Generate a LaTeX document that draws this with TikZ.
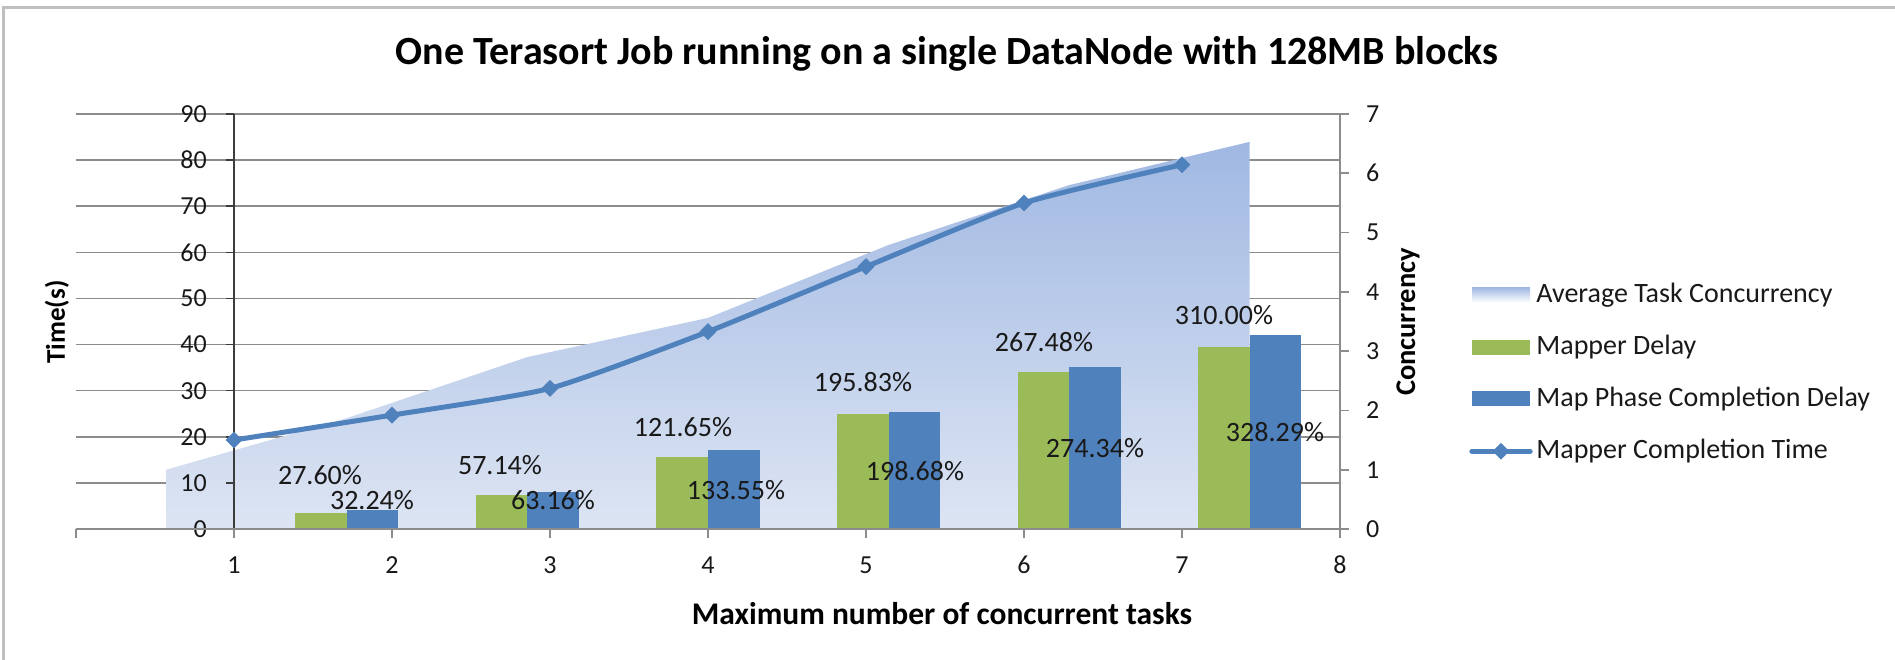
\documentclass[tikz,border=0pt]{standalone}
\usepackage{fontspec}
\setmainfont{Carlito}
\usepackage{tikz}
\usetikzlibrary{positioning,shapes.geometric}
\definecolor{barGreen}{RGB}{155,187,89}
\definecolor{barBlue}{RGB}{79,129,189}
\definecolor{gridGray}{RGB}{140,140,140}
\definecolor{axisDark}{RGB}{60,60,60}
\definecolor{frameGray}{RGB}{191,191,191}
\definecolor{areaTop}{RGB}{160,184,226}
\definecolor{areaBot}{RGB}{221,229,243}
\definecolor{inkGray}{RGB}{25,25,25}
\newcommand{\timey}[1]{529-4.611*#1}
\newcommand{\concy}[1]{529-59.29*#1}
\newcommand{\catx}[1]{76+158*#1}
\newcommand{\grpx}[1]{76+180.57*(#1-0.5)}

\begin{document}
\begin{tikzpicture}[
    x=1pt, y=-1pt,
    gridline/.style={gridGray, line width=1.6pt},
    axisline/.style={gridGray, line width=2.2pt},
    ticklbl/.style={font=\fontsize{26}{30}\selectfont, inner sep=0pt, text=inkGray},
    pct/.style={font=\fontsize{28}{32}\selectfont, inner sep=0pt, text=inkGray},
    axtitle/.style={font=\fontsize{31.5}{36}\selectfont\bfseries, inner sep=0pt},
    legtext/.style={font=\fontsize{28}{32}\selectfont, inner sep=0pt, text=inkGray},
    swatch/.style={minimum width=58pt, minimum height=15pt, inner sep=0pt},
    diamark/.style={diamond, fill=barBlue, minimum size=17pt, inner sep=0pt},
    trend/.style={barBlue, line width=5pt, line join=round, line cap=round}
]
\useasboundingbox (0,0) rectangle (1895,660);
\draw[frameGray, line width=3pt] (3,660) -- (3,8) -- (1895,8);

\node[font=\fontsize{40}{46}\selectfont\bfseries] (title) at (947,54) {One Terasort Job running on a single DataNode with 128MB blocks};

\foreach \v in {10,20,...,90}
  \draw[gridline] (76,{\timey{\v}}) -- (1340,{\timey{\v}});

\shade[top color=areaTop, bottom color=areaBot]
  ({\grpx{1}},529) \foreach \k/\c in {1/1.00,2/1.87,3/2.90,4/3.56,5/4.79,6/5.80,7/6.53} { -- ({\grpx{\k}},{\concy{\c}}) } -- ({\grpx{7}},529) -- cycle;

\foreach \k/\g/\b in {2/3.52/4.13, 3/7.29/8.08, 4/15.51/17.09, 5/24.97/25.43, 6/34.10/35.12, 7/39.53/42.02} {
  \fill[barGreen] ({\grpx{\k}-51.6},529) rectangle ({\grpx{\k}},{\timey{\g}});
  \fill[barBlue] ({\grpx{\k}},529) rectangle ({\grpx{\k}+51.6},{\timey{\b}});
}

\draw[axisDark, line width=2pt] (234,114) -- (234,529);
\foreach \v in {0,10,...,90} {
  \draw[axisDark, line width=1.5pt] (226,{\timey{\v}}) -- (234,{\timey{\v}});
  \node[ticklbl, anchor=east] (yt\v) at (207,{\timey{\v}}) {\v};
}
\draw[axisline] (1340,114) -- (1340,529);
\foreach \c in {0,...,7} {
  \draw[gridline] (1340,{\concy{\c}}) -- (1349,{\concy{\c}});
  \node[ticklbl, anchor=west] (ct\c) at (1366,{\concy{\c}}) {\c};
}
\draw[axisline] (76,529) -- (1340,529);
\foreach \c in {0,...,8}
  \draw[gridline] ({\catx{\c}},529) -- ({\catx{\c}},538);
\foreach \c in {1,...,8}
  \node[ticklbl] (xt\c) at ({\catx{\c}},565) {\c};

\foreach \c/\t in {1/19.3,2/24.7,3/30.5,4/42.8,5/56.9,6/70.7,7/79.0}
  \coordinate (m\c) at ({\catx{\c}},{\timey{\t}});
\draw[trend] plot[smooth, tension=0.35] coordinates {(m1) (m2) (m3) (m4) (m5) (m6) (m7)};
\foreach \c in {1,...,7}
  \node[diamark] (dm\c) at (m\c) {};

\foreach \x/\y/\lbl/\nm in {320/475/27.60/g2, 372/500/32.24/b2, 500/465/57.14/g3, 553/500/63.16/b3,
    683/427/121.65/g4, 736/490/133.55/b4, 863/382/195.83/g5, 915/471/198.68/b5,
    1044/342/267.48/g6, 1095/448/274.34/b6, 1224/315/310.00/g7, 1275/432/328.29/b7}
  \node[pct] (lab\nm) at (\x,\y) {\lbl\%};

\node[axtitle, rotate=90, font=\fontsize{27}{31}\selectfont\bfseries] (ytitle) at (57,322) {Time(s)};
\node[axtitle, rotate=90, font=\fontsize{28.5}{33}\selectfont\bfseries] (y2title) at (1408,322) {Concurrency};
\node[axtitle] (xtitle) at (942,614) {Maximum number of concurrent tasks};

\node[swatch, top color=areaTop, bottom color=white] (legArea) at (1501,295) {};
\node[legtext, right=6pt of legArea] (legAreaTxt) {Average Task Concurrency};
\node[swatch, fill=barGreen, below=37pt of legArea] (legMap) {};
\node[legtext, right=6pt of legMap] (legMapTxt) {Mapper Delay};
\node[swatch, fill=barBlue, below=36pt of legMap] (legPhase) {};
\node[legtext, right=6pt of legPhase] (legPhaseTxt) {Map Phase Completion Delay};
\node[swatch, below=37pt of legPhase] (legTime) {};
\draw[trend] (legTime.west) -- (legTime.east);
\node[diamark] (legDia) at (legTime) {};
\node[legtext, right=6pt of legTime] (legTimeTxt) {Mapper Completion Time};
\end{tikzpicture}
\end{document}
